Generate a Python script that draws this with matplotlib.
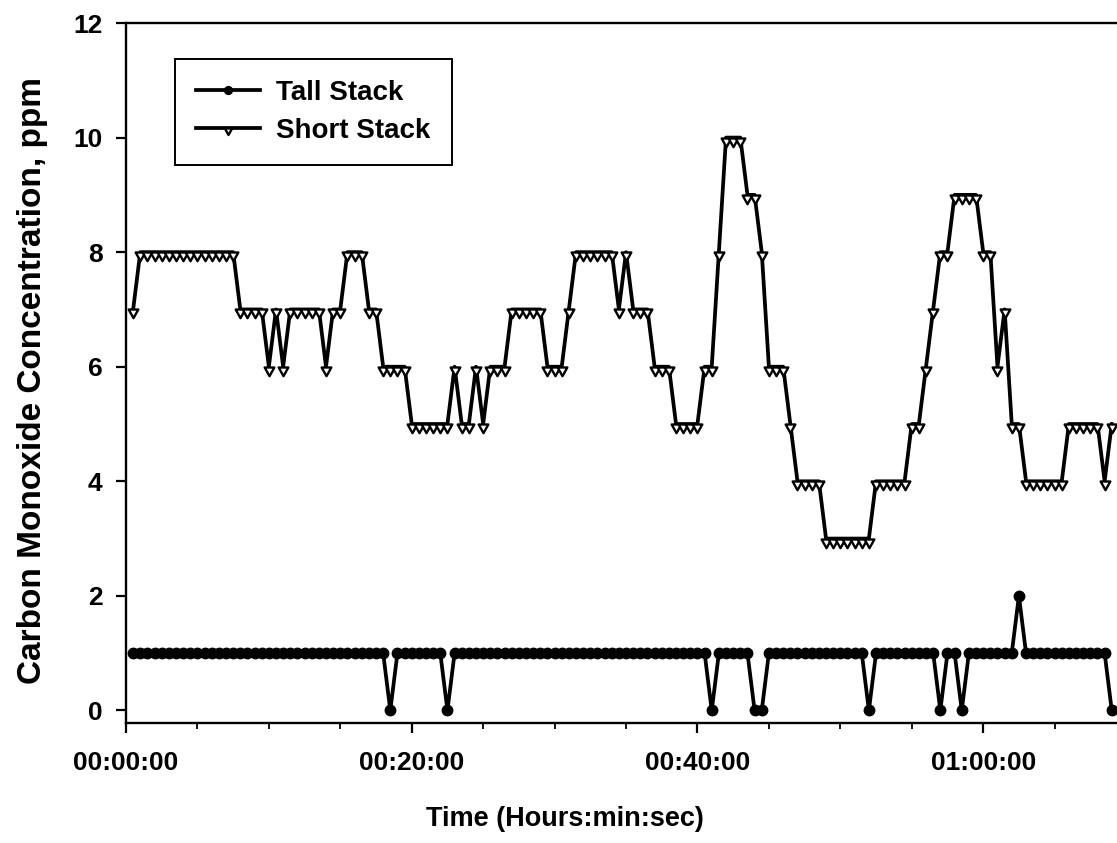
import numpy as np
import matplotlib
matplotlib.use('Agg')
import matplotlib.pyplot as plt
from matplotlib.path import Path
from matplotlib.ticker import MultipleLocator

# CO readings, one every 30 s (minutes), first one at 00:00:30
t_start = 0.5
t_step = 0.5

tall_stack = [1, 1, 1, 1, 1, 1, 1, 1, 1, 1, 1, 1, 1, 1, 1, 1, 1, 1, 1, 1,
              1, 1, 1, 1, 1, 1, 1, 1, 1, 1, 1, 1, 1, 1, 1, 1, 0, 1, 1, 1,
              1, 1, 1, 1, 0, 1, 1, 1, 1, 1, 1, 1, 1, 1, 1, 1, 1, 1, 1, 1,
              1, 1, 1, 1, 1, 1, 1, 1, 1, 1, 1, 1, 1, 1, 1, 1, 1, 1, 1, 1,
              1, 0, 1, 1, 1, 1, 1, 0, 0, 1, 1, 1, 1, 1, 1, 1, 1, 1, 1, 1,
              1, 1, 1, 0, 1, 1, 1, 1, 1, 1, 1, 1, 1, 0, 1, 1, 0, 1, 1, 1,
              1, 1, 1, 1, 2, 1, 1, 1, 1, 1, 1, 1, 1, 1, 1, 1, 1, 0]

short_stack = [7, 8, 8, 8, 8, 8, 8, 8, 8, 8, 8, 8, 8, 8, 8, 7, 7, 7, 7, 6,
               7, 6, 7, 7, 7, 7, 7, 6, 7, 7, 8, 8, 8, 7, 7, 6, 6, 6, 6, 5,
               5, 5, 5, 5, 5, 6, 5, 5, 6, 5, 6, 6, 6, 7, 7, 7, 7, 7, 6, 6,
               6, 7, 8, 8, 8, 8, 8, 8, 7, 8, 7, 7, 7, 6, 6, 6, 5, 5, 5, 5,
               6, 6, 8, 10, 10, 10, 9, 9, 8, 6, 6, 6, 5, 4, 4, 4, 4, 3, 3, 3,
               3, 3, 3, 3, 4, 4, 4, 4, 4, 5, 5, 6, 7, 8, 8, 9, 9, 9, 9, 8,
               8, 6, 7, 5, 5, 4, 4, 4, 4, 4, 4, 5, 5, 5, 5, 5, 4, 5]

x_ticks = [0, 20, 40, 60]
x_tick_labels = ['00:00:00', '00:20:00', '00:40:00', '01:00:00']
y_ticks = [0, 2, 4, 6, 8, 10, 12]

t = t_start + t_step * np.arange(len(tall_stack))

plt.rcParams['font.family'] = ['Liberation Sans', 'DejaVu Sans']
plt.rcParams['font.weight'] = 'bold'

# triangle hanging under the point (top edge on the line)
tri = Path([(-1, 0), (1, 0), (0, -1.8), (-1, 0)],
           [Path.MOVETO, Path.LINETO, Path.LINETO, Path.CLOSEPOLY])

fig = plt.figure(figsize=(11.17, 8.43), dpi=100)
ax = fig.add_axes([0.1128, 0.1423, 0.8953, 0.8304])

ax.plot(t, tall_stack, color='black', lw=2.7, marker='o', ms=7.5,
        mfc='black', mec='black', label='Tall Stack', zorder=3)
ax.plot(t, short_stack, color='black', lw=2.7, marker=tri, ms=12.5,
        mfc='white', mec='black', mew=1.7, label='Short Stack', zorder=4)

ax.set_xlim(0, 70)
ax.set_ylim(-0.22, 12)

ax.set_xticks(x_ticks)
ax.set_xticklabels(x_tick_labels)
ax.xaxis.set_minor_locator(MultipleLocator(5))
ax.set_yticks(y_ticks)

ax.tick_params(axis='x', which='major', direction='out', length=7, width=1.6,
               labelsize=19, pad=13)
ax.tick_params(axis='x', which='minor', direction='out', length=4, width=1.3)
ax.tick_params(axis='y', which='major', direction='out', length=7, width=1.6,
               labelsize=19, pad=10)
ax.tick_params(top=False, right=False)

for s in ax.spines.values():
    s.set_linewidth(1.7)

ax.set_xlabel('Time (Hours:min:sec)', fontsize=19.5, fontweight='bold')
ax.xaxis.set_label_coords(0.439, -0.118)
ax.set_ylabel('Carbon Monoxide Concentration, ppm', fontsize=24, fontweight='bold')
ax.yaxis.set_label_coords(-0.078, 0.49)

leg = ax.legend(loc='upper left', bbox_to_anchor=(0.049, 0.949), borderaxespad=0,
                fontsize=20, fancybox=False, frameon=True, framealpha=1,
                edgecolor='black', handlelength=2.3, handletextpad=0.6,
                labelspacing=0.45, borderpad=0.75, markerscale=0.75)
leg.get_frame().set_linewidth(1.4)
for txt in leg.get_texts():
    txt.set_fontweight('bold')

fig.savefig('out.png', dpi=100)
